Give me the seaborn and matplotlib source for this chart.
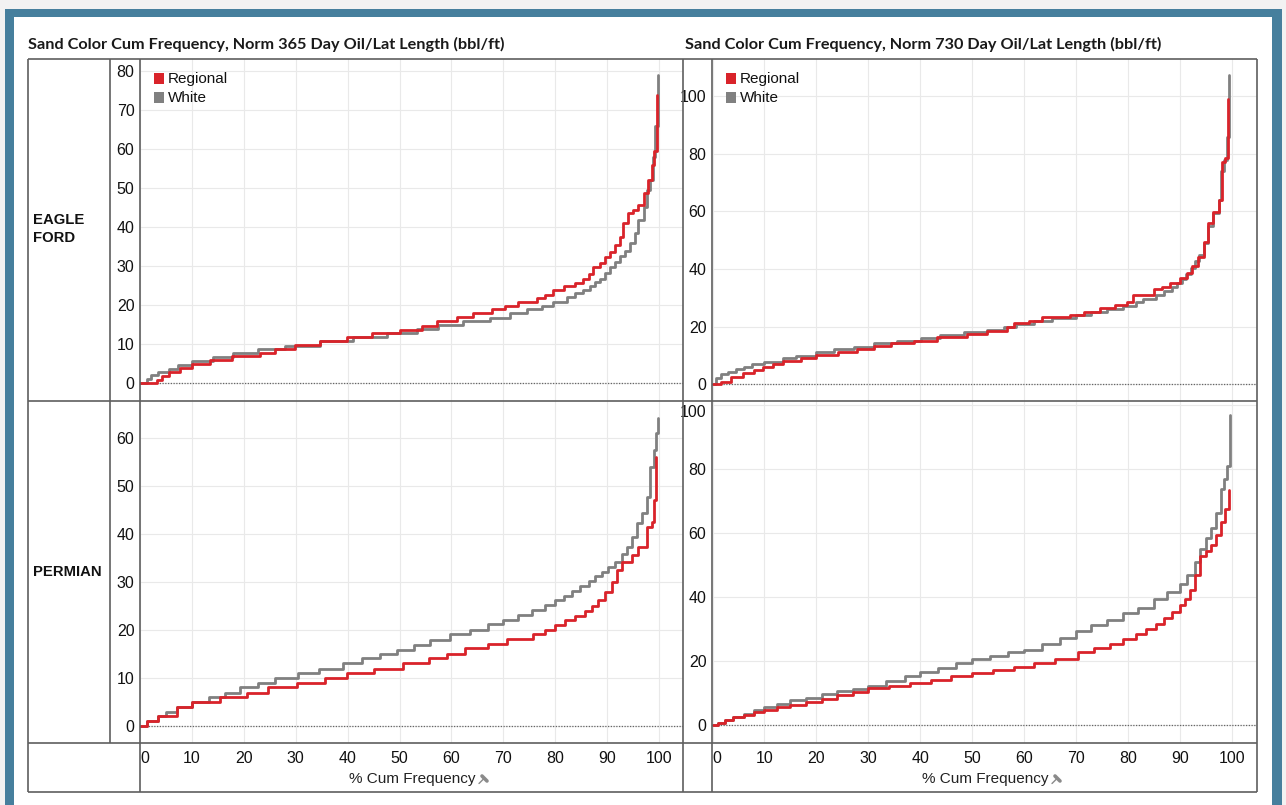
import matplotlib
matplotlib.use("Agg")
import matplotlib.pyplot as plt
from matplotlib.lines import Line2D
from matplotlib.patches import Rectangle
import pandas as pd
import seaborn as sns

# ---------------- data: cumulative frequency (%) vs normalized oil (bbl/ft) ----------------
# Eagle Ford, 365 day
ef365_reg_pct = [0, 3.2, 4.2, 5.5, 7.7, 10.0, 13.5, 17.7, 23.1, 26.0, 29.9, 34.7, 39.8, 44.6, 50.1,
                 54.3, 57.2, 61.0, 64.2, 67.8, 70.3, 72.9, 76.4, 78.0, 79.6, 81.6, 83.8, 85.4, 86.4,
                 87.3, 88.6, 89.6, 90.6, 91.5, 92.5, 93.1, 94.1, 95.0, 96.0, 97.0, 97.9, 98.6, 99.1, 99.6]
ef365_reg_val = [0, 0.9, 1.8, 2.9, 3.9, 5.0, 6.0, 7.1, 7.9, 8.8, 9.8, 10.9, 11.8, 12.9, 13.8,
                 14.8, 15.9, 17.1, 18.0, 19.0, 19.9, 21.0, 21.8, 22.8, 23.9, 25.0, 25.8, 26.7, 28.0,
                 29.8, 30.9, 32.3, 33.8, 35.5, 37.6, 41.1, 43.8, 44.5, 45.7, 48.8, 52.1, 56.0, 59.5, 74.0]
ef365_wht_pct = [0, 1.3, 2.2, 3.5, 5.5, 7.4, 10.0, 14.1, 18.0, 22.8, 27.9, 34.7, 41.1, 47.5, 53.3,
                 57.5, 62.3, 67.4, 71.3, 74.5, 77.4, 79.6, 82.2, 83.8, 85.4, 86.6, 87.7, 88.6, 89.6,
                 90.6, 91.5, 92.5, 93.4, 94.4, 95.4, 96.0, 97.0, 97.6, 98.3, 98.9, 99.3, 99.7]
ef365_wht_val = [0, 1.1, 2.1, 2.9, 3.8, 4.7, 5.8, 6.7, 7.9, 8.9, 9.7, 10.9, 12.0, 13.0, 14.0,
                 15.0, 16.0, 16.9, 18.0, 19.0, 19.9, 21.0, 22.1, 23.1, 23.9, 25.0, 26.1, 26.9, 28.2,
                 29.8, 31.2, 32.7, 34.0, 35.9, 38.5, 41.9, 45.3, 49.6, 52.1, 58.0, 66.0, 79.0]

# Eagle Ford, 730 day
ef730_reg_pct = [0, 1.6, 3.6, 5.8, 8.0, 9.7, 11.6, 13.5, 17.0, 19.9, 24.1, 27.9, 31.1, 34.3, 38.8,
                 43.3, 49.1, 52.9, 56.8, 58.0, 60.9, 63.5, 68.9, 71.5, 74.7, 77.6, 79.8, 81.1, 85.0,
                 86.6, 88.2, 90.1, 91.4, 92.3, 93.6, 94.6, 95.5, 96.5, 97.5, 98.1, 98.8, 99.3]
ef730_reg_val = [0, 0.8, 2.5, 3.9, 4.9, 6.0, 6.8, 8.0, 8.9, 10.1, 11.0, 12.2, 13.2, 14.1, 14.9,
                 16.2, 17.4, 18.4, 19.9, 21.1, 22.0, 23.2, 24.0, 25.1, 26.3, 27.5, 28.6, 30.9, 32.9,
                 33.9, 35.2, 36.7, 38.5, 41.0, 44.2, 49.5, 55.9, 59.9, 64.0, 77.3, 78.6, 99.0]
ef730_wht_pct = [0, 0.7, 1.6, 2.9, 4.5, 6.1, 7.7, 10.0, 13.5, 16.1, 19.9, 23.4, 27.3, 31.1, 35.6,
                 40.1, 43.9, 48.4, 52.9, 56.1, 58.5, 62.0, 65.5, 70.0, 73.0, 76.0, 79.0, 81.5, 83.0,
                 85.5, 87.0, 88.5, 89.5, 90.5, 91.3, 92.2, 93.0, 93.8, 94.6, 95.5, 96.5, 97.5, 98.0,
                 98.6, 99.2, 99.6]
ef730_wht_val = [0, 2.0, 3.4, 4.3, 5.1, 6.0, 6.8, 7.8, 8.9, 9.8, 11.0, 12.1, 13.0, 14.1, 14.9,
                 15.9, 17.0, 18.2, 18.8, 19.9, 20.9, 22.0, 23.0, 24.0, 25.0, 26.1, 27.3, 28.5, 29.6,
                 31.0, 32.4, 33.8, 35.0, 36.6, 38.3, 40.5, 42.6, 44.8, 49.0, 55.0, 59.5, 64.0, 74.0,
                 78.0, 86.0, 107.5]

# Permian, 365 day
p365_reg_pct = [0, 1.3, 3.5, 7.1, 10.0, 15.4, 20.6, 24.7, 30.2, 35.6, 39.8, 45.0, 50.7, 55.6, 59.1,
                62.6, 67.1, 70.7, 75.8, 78.0, 80.0, 81.9, 83.8, 85.7, 87.0, 88.3, 89.6, 90.9, 91.8,
                92.8, 94.7, 96.0, 97.6, 98.6, 99.0, 99.4]
p365_reg_val = [0, 0.9, 2.0, 3.9, 5.0, 6.0, 6.9, 8.0, 8.9, 10.0, 10.9, 11.9, 13.0, 14.0, 15.0,
                16.1, 17.0, 18.0, 19.1, 20.0, 20.9, 22.0, 22.8, 23.9, 24.9, 26.1, 27.9, 30.0, 32.4,
                34.1, 35.5, 37.2, 41.4, 42.5, 47.0, 56.0]
p365_wht_pct = [0, 1.3, 3.5, 5.1, 7.1, 10.0, 13.2, 16.4, 19.3, 22.8, 26.0, 30.5, 34.4, 39.2, 42.7,
                46.2, 49.5, 52.7, 55.9, 59.7, 63.6, 67.1, 70.0, 72.9, 75.5, 78.0, 80.0, 81.6, 83.2,
                84.8, 86.4, 87.7, 89.0, 90.2, 91.5, 92.8, 93.8, 94.7, 95.7, 96.7, 97.6, 98.3, 99.0,
                99.4, 99.7]
p365_wht_val = [0, 0.9, 2.0, 2.9, 3.9, 5.0, 6.0, 6.9, 8.0, 8.9, 10.0, 11.0, 11.9, 13.0, 14.0,
                14.9, 15.8, 16.9, 17.9, 19.0, 20.0, 21.1, 22.1, 23.0, 24.1, 25.1, 26.1, 27.0, 28.0,
                29.1, 30.1, 31.1, 32.0, 33.1, 34.1, 35.7, 37.2, 39.3, 42.1, 44.2, 47.7, 53.9, 57.5,
                61.0, 64.0]

# Permian, 730 day
p730_reg_pct = [0, 1.0, 2.5, 4.0, 6.0, 8.0, 10.0, 12.5, 15.0, 18.0, 21.0, 24.0, 27.0, 30.0, 34.0,
                38.0, 42.0, 46.0, 50.0, 54.0, 58.0, 62.0, 66.0, 70.5, 73.5, 76.5, 79.0, 81.5, 83.5,
                85.5, 87.0, 88.5, 90.0, 91.0, 92.0, 93.0, 94.0, 95.0, 96.0, 97.0, 98.0, 98.8, 99.5]
p730_reg_val = [0, 0.8, 1.6, 2.5, 3.3, 4.1, 4.8, 5.6, 6.4, 7.2, 8.3, 9.4, 10.5, 11.7, 12.4,
                13.3, 14.2, 15.3, 16.4, 17.3, 18.2, 19.5, 20.8, 23.0, 24.2, 25.5, 27.0, 28.5, 30.0,
                31.8, 33.5, 35.3, 37.5, 39.5, 42.3, 47.0, 53.0, 54.5, 56.5, 59.5, 63.5, 67.5, 73.5]
p730_wht_pct = [0, 1.0, 2.5, 4.0, 6.0, 8.0, 10.0, 12.5, 15.0, 18.0, 21.0, 24.0, 27.0, 30.0, 33.5,
                37.0, 40.0, 43.5, 47.0, 50.0, 53.5, 57.0, 60.0, 63.5, 67.0, 70.0, 73.0, 76.0, 79.0,
                82.0, 85.0, 87.5, 90.0, 91.5, 93.0, 94.0, 95.0, 96.0, 97.0, 98.0, 98.6, 99.2, 99.7]
p730_wht_val = [0, 0.8, 1.8, 2.7, 3.6, 4.7, 5.8, 6.8, 7.8, 8.7, 9.8, 10.6, 11.5, 12.3, 13.8,
                15.3, 16.8, 18.0, 19.4, 20.6, 21.7, 22.8, 23.7, 25.3, 27.2, 29.4, 31.3, 33.0, 35.0,
                36.8, 39.6, 41.8, 44.3, 47.0, 51.0, 55.0, 58.5, 61.7, 66.5, 74.0, 77.0, 81.0, 97.0]

series_names = ["Regional", "White"]
basins = ["EAGLE\nFORD", "PERMIAN"]
titles = ["Sand Color Cum Frequency, Norm 365 Day Oil/Lat Length (bbl/ft)",
          "Sand Color Cum Frequency, Norm 730 Day Oil/Lat Length (bbl/ft)"]
x_ticks = list(range(0, 101, 10))
x_label = "% Cum Frequency"

# ---------------- styling ----------------
RED = "#d9232a"
GRAY = "#808080"
BLUE = "#467f9d"
RULE = "#5f5f5f"

sns.set_theme(style="white")
plt.rcParams["font.family"] = ["Liberation Sans", "DejaVu Sans"]

W, H = 1286, 805
fig = plt.figure(figsize=(W / 100, H / 100), dpi=100)
fig.patch.set_facecolor("#f2f2f2")


def fx(x):
    return x / W


def fy(y):
    return 1 - y / H


def frect(x0, y0, x1, y1, **kw):
    fig.add_artist(Rectangle((fx(x0), fy(y1)), fx(x1) - fx(x0), fy(y0) - fy(y1),
                             transform=fig.transFigure, **kw))


def fline(x0, y0, x1, y1, **kw):
    fig.add_artist(Line2D([fx(x0), fx(x1)], [fy(y0), fy(y1)],
                          transform=fig.transFigure, **kw))


# framed card
frect(5, 9, 1282, 815, color=BLUE, zorder=-3, lw=0)
frect(14, 17, 1272, 815, color="white", zorder=-2, lw=0)

# panel geometry (pixels)
TOP, MID, BOT, AXB = 59, 401, 743, 792
LEFT_X0, LEFT_X1 = 140, 683
RIGHT_X0, RIGHT_X1 = 712, 1257


def make_ax(x0, x1, y0, y1):
    ax = fig.add_axes([fx(x0), fy(y1), (x1 - x0) / W, (y1 - y0) / H])
    ax.set_facecolor("none")
    return ax


def draw_panel(ax, reg_pct, reg_val, wht_pct, wht_val, xlim, ylim, yticks, show_x):
    df = pd.concat([
        pd.DataFrame({"pct": wht_pct, "value": wht_val, "sand": series_names[1]}),
        pd.DataFrame({"pct": reg_pct, "value": reg_val, "sand": series_names[0]}),
    ], ignore_index=True)
    sns.lineplot(data=df, x="pct", y="value", hue="sand",
                 hue_order=[series_names[1], series_names[0]],
                 palette={series_names[0]: RED, series_names[1]: GRAY},
                 estimator=None, sort=False, drawstyle="steps-post",
                 linewidth=2.0, legend=False, ax=ax, zorder=3)
    ax.set_xlim(*xlim)
    ax.set_ylim(*ylim)
    ax.set_xticks(x_ticks)
    ax.set_yticks(yticks)
    ax.grid(True, color="#e9e9e9", lw=0.8)
    ax.set_axisbelow(True)
    ax.axhline(0, color="#666666", lw=0.9, ls=(0, (1, 1.2)), zorder=2)
    for s in ax.spines.values():
        s.set_visible(False)
    ax.set_xlabel("")
    ax.set_ylabel("")
    ax.tick_params(axis="both", length=0, labelsize=11.5, colors="#111111")
    ax.tick_params(axis="y", pad=4)
    ax.tick_params(axis="x", pad=6, labelbottom=show_x)
    if show_x:
        ax.get_xticklabels()[0].set_ha("left")


ax_ef365 = make_ax(LEFT_X0, LEFT_X1, TOP, MID)
ax_ef730 = make_ax(RIGHT_X0, RIGHT_X1, TOP, MID)
ax_p365 = make_ax(LEFT_X0, LEFT_X1, MID, BOT)
ax_p730 = make_ax(RIGHT_X0, RIGHT_X1, MID, BOT)

draw_panel(ax_ef365, ef365_reg_pct, ef365_reg_val, ef365_wht_pct, ef365_wht_val,
           (0, 104.6), (-4.5, 83.2), list(range(0, 81, 10)), False)
draw_panel(ax_ef730, ef730_reg_pct, ef730_reg_val, ef730_wht_pct, ef730_wht_val,
           (-0.1, 104.9), (-5.9, 113.0), list(range(0, 101, 20)), False)
draw_panel(ax_p365, p365_reg_pct, p365_reg_val, p365_wht_pct, p365_wht_val,
           (0, 104.6), (-3.6, 67.6), list(range(0, 61, 10)), True)
draw_panel(ax_p730, p730_reg_pct, p730_reg_val, p730_wht_pct, p730_wht_val,
           (-0.1, 104.9), (-5.5, 101.4), list(range(0, 101, 20)), True)
ax_p730.get_yticklabels()[-1].set_va("top")

# table rules
rk = dict(color=RULE, lw=1.2, zorder=6, solid_capstyle="butt")
fline(28, TOP, RIGHT_X1, TOP, **rk)
fline(28, AXB, RIGHT_X1, AXB, **rk)
fline(28, MID, RIGHT_X1, MID, **rk)
fline(28, BOT, RIGHT_X1, BOT, **rk)
fline(28, TOP, 28, AXB, **rk)
fline(RIGHT_X1, TOP, RIGHT_X1, AXB, **rk)
fline(110, TOP, 110, BOT, **rk)
fline(LEFT_X0, TOP, LEFT_X0, AXB, **rk)
fline(LEFT_X1, TOP, LEFT_X1, AXB, **rk)
fline(RIGHT_X0, TOP, RIGHT_X0, AXB, **rk)

# titles
for x, t in zip([28, 685], titles):
    fig.text(fx(x), fy(44), t, ha="left", va="center", fontsize=11.7,
             fontfamily="Lato", fontweight="bold", color="#1a1a1a")

# row labels
for yc, b in zip([229, 572], basins):
    fig.text(fx(33), fy(yc), b, ha="left", va="center", fontsize=10.7,
             fontweight="bold", color="#111111", linespacing=1.4)

# legends
for lx in [154, 726]:
    for i, (name, col) in enumerate(zip(series_names, [RED, GRAY])):
        yc = 79 + 19 * i
        frect(lx, yc - 5.5, lx + 10, yc + 5.5, color=col, lw=0, zorder=7)
        fig.text(fx(lx + 14), fy(yc), name, ha="left", va="center",
                 fontsize=11.0, color="#111111", zorder=7)

# x axis labels with pin glyph
for xc in [412, 985]:
    fig.text(fx(xc), fy(779), x_label, ha="center", va="center",
             fontsize=11, color="#222222")
    px = xc + 67
    fline(px, 783.5, px + 5, 778.5, color="#8a8a8a", lw=1.0, zorder=7)
    fline(px + 3, 776, px + 8, 781, color="#8a8a8a", lw=2.6, zorder=7)

fig.savefig("out.png", dpi=100, facecolor=fig.get_facecolor())
